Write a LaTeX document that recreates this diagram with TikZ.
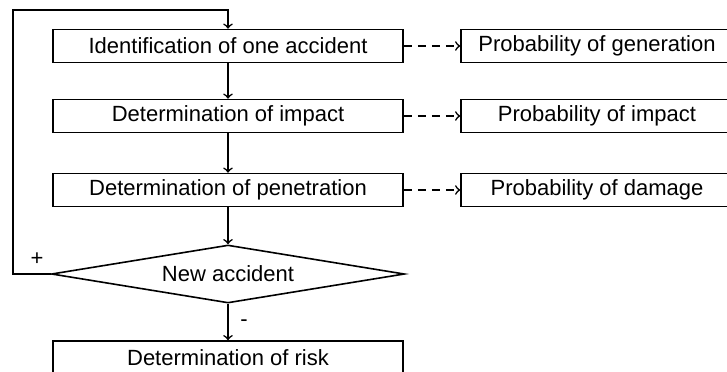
\documentclass[tikz,border=0pt]{standalone}
\usepackage{fontspec}
\setmainfont{Liberation Sans}
\usetikzlibrary{shapes.geometric}

\begin{document}
\begin{tikzpicture}[x=0.5pt, y=-0.5pt, line width=0.8pt,
    stepbox/.style={draw, minimum width=175pt, minimum height=16.5pt, inner sep=0pt,
      font=\fontsize{11}{13}\selectfont},
    probbox/.style={draw, minimum width=136pt, minimum height=16.5pt, inner sep=0pt,
      font=\fontsize{11}{13}\selectfont},
    decision/.style={draw, diamond, minimum width=176.5pt, minimum height=29pt,
      inner sep=0pt, aspect=6, font=\fontsize{11}{13}\selectfont},
    sign/.style={font=\fontsize{11}{13}\selectfont, inner sep=0pt},
    link/.style={->, dash pattern=on 4pt off 3pt}]
    \useasboundingbox (0,0) rectangle (727,371);
    \clip (0,0) rectangle (727,371);

    \node[stepbox] (ident) at (228,46) {Identification of one accident};
    \node[stepbox] (impact) at (228,116) {Determination of impact};
    \node[stepbox] (penet) at (228,190) {Determination of penetration};
    \node[decision] (newacc) at (228,274) {New accident};
    \node[stepbox] (risk) at (228,357.5) {Determination of risk};

    \node[probbox] (pgen) at (597,46) {Probability of generation};
    \node[probbox] (pimp) at (597,116) {Probability of impact};
    \node[probbox] (pdam) at (597,190) {Probability of damage};

    \node[sign] (plus) at (37,259) {+};
    \node[sign] (minus) at (244,323) {-};
    \coordinate (loop) at (13,10);

    \draw[->] (ident) -- (impact);
    \draw[->] (impact) -- (penet);
    \draw[->] (penet) -- (newacc);
    \draw[->] (newacc) -- (risk);
    \draw[->] (newacc.west) -| (loop) -| (ident.north);

    \draw[link] (ident) -- (pgen);
    \draw[link] (impact) -- (pimp);
    \draw[link] (penet) -- (pdam);
\end{tikzpicture}
\end{document}
